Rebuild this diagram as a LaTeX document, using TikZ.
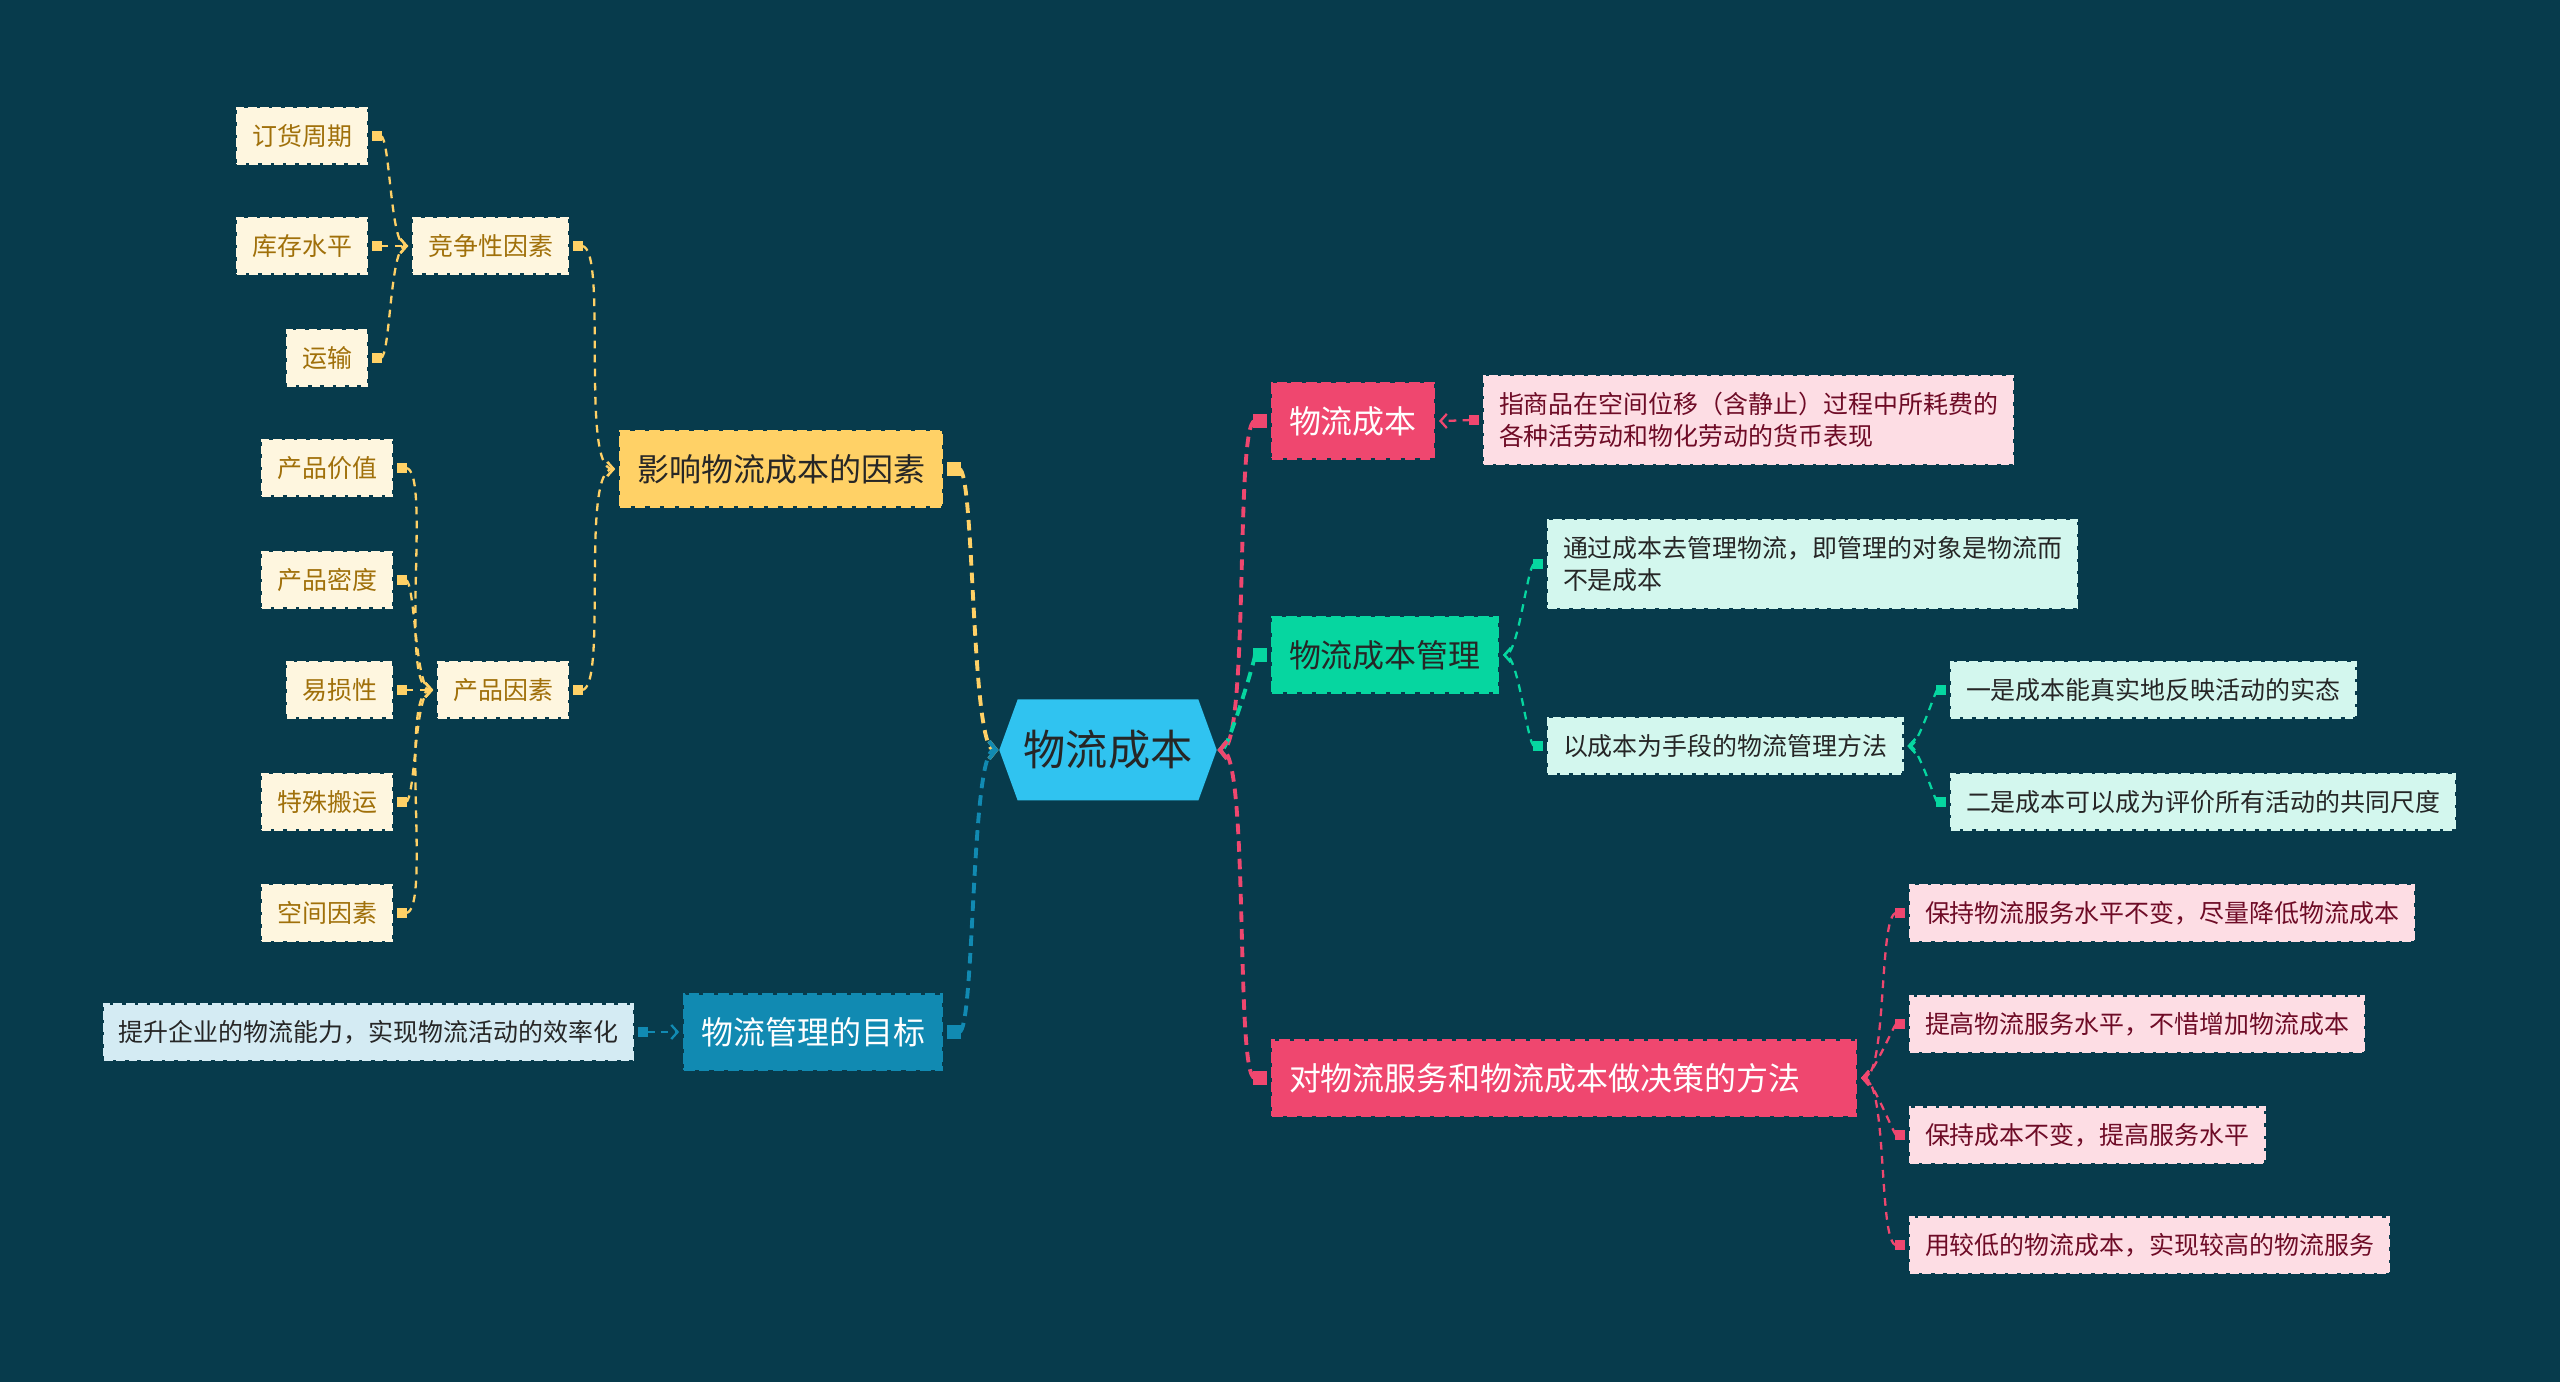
\documentclass[tikz,border=0pt]{standalone}
\usepackage{fontspec}
\setmainfont{Noto Sans CJK SC}
\usepackage{xcolor}
\usepackage{tikz}
\usetikzlibrary{arrows.meta,shapes.symbols}
\definecolor{MapBg}{HTML}{073B4C}
\definecolor{MapRoot}{HTML}{30C3F0}
\definecolor{MapYellow}{HTML}{FFD166}
\definecolor{MapPink}{HTML}{EF476F}
\definecolor{MapGreen}{HTML}{06D6A0}
\definecolor{MapBlue}{HTML}{118AB2}
\definecolor{MapCream}{HTML}{FEF6DF}
\definecolor{MapGold}{HTML}{A0700A}
\definecolor{MapBlush}{HTML}{FDDDE4}
\definecolor{MapWine}{HTML}{6E0B26}
\definecolor{MapMint}{HTML}{D3F7EE}
\definecolor{MapIce}{HTML}{D4EBF3}
\definecolor{MapInk}{HTML}{262626}
\tikzset{
  rootbox/.style={shape=signal,signal to=east and west,signal pointer angle=140,fill=MapRoot,text=MapInk,minimum height=1.01cm,inner xsep=0.06cm,inner ysep=0pt,font=\fontsize{12pt}{14pt}\selectfont},
  topic/.style={rectangle,fill=#1,draw=#1,line width=0.8pt,dash pattern=on 3pt off 1.2pt,minimum height=0.75cm,inner xsep=0.17cm,inner ysep=0pt,outer sep=0.05cm,font=\fontsize{9.1pt}{11pt}\selectfont},
  leaf/.style={rectangle,fill=#1,draw=#1,line width=0.7pt,dash pattern=on 2.5pt off 1pt,minimum height=0.55cm,inner xsep=0.15cm,inner ysep=0.08cm,outer sep=0.05cm,font=\fontsize{7.1pt}{9.1pt}\selectfont},
  trunk/.style={draw=#1,line width=1.1pt,dash pattern=on 3pt off 2pt,looseness=0.25,{Square[length=4pt,width=4pt]}-{Straight Barb[length=2pt,width=5pt]}},
  link/.style={draw=#1,line width=0.65pt,dash pattern=on 2.2pt off 1.8pt,looseness=0.4,{Square[length=2.8pt,width=2.8pt]}-{Straight Barb[length=1.8pt,width=4pt]}}
}

\begin{document}
\begin{tikzpicture}[x=1cm,y=1cm]
\fill[MapBg] (0,0) rectangle (25.60,13.82);
\path[use as bounding box] (0,0) rectangle (25.60,13.82);
\node[rootbox] (root) at (11.08,6.32) {物流成本};
\node[topic=MapYellow,text=MapInk,anchor=east] (yinxiang) at (9.47,9.13) {影响物流成本的因素};
\node[leaf=MapCream,text=MapGold,anchor=east] (jingzheng) at (5.73,11.36) {竞争性因素};
\node[leaf=MapCream,text=MapGold,anchor=east] (chanpin) at (5.73,6.92) {产品因素};
\node[leaf=MapCream,text=MapGold,anchor=east] (dinghuo) at (3.72,12.46) {订货周期};
\node[leaf=MapCream,text=MapGold,anchor=east] (kucun) at (3.72,11.36) {库存水平};
\node[leaf=MapCream,text=MapGold,anchor=east] (yunshu) at (3.72,10.24) {运输};
\node[leaf=MapCream,text=MapGold,anchor=east] (jiazhi) at (3.97,9.14) {产品价值};
\node[leaf=MapCream,text=MapGold,anchor=east] (midu) at (3.97,8.02) {产品密度};
\node[leaf=MapCream,text=MapGold,anchor=east] (yisun) at (3.97,6.92) {易损性};
\node[leaf=MapCream,text=MapGold,anchor=east] (banyun) at (3.97,5.80) {特殊搬运};
\node[leaf=MapCream,text=MapGold,anchor=east] (kongjian) at (3.97,4.69) {空间因素};
\node[topic=MapBlue,text=white,anchor=east] (mubiao) at (9.47,3.50) {物流管理的目标};
\node[leaf=MapIce,text=MapInk,anchor=east] (tisheng) at (6.38,3.50) {提升企业的物流能力，实现物流活动的效率化};
\node[topic=MapPink,text=white,anchor=west] (chengben) at (12.67,9.61) {物流成本};
\node[leaf=MapBlush,text=MapWine,anchor=west,align=left,inner ysep=0.16cm] (dingyi) at (14.79,9.62) {指商品在空间位移（含静止）过程中所耗费的\\各种活劳动和物化劳动的货币表现};
\node[topic=MapGreen,text=MapInk,anchor=west] (guanli) at (12.67,7.27) {物流成本管理};
\node[leaf=MapMint,text=MapInk,anchor=west,align=left,inner ysep=0.16cm] (tongguo) at (15.43,8.18) {通过成本去管理物流，即管理的对象是物流而\\不是成本};
\node[leaf=MapMint,text=MapInk,anchor=west] (shouduan) at (15.43,6.36) {以成本为手段的物流管理方法};
\node[leaf=MapMint,text=MapInk,anchor=west] (shitai) at (19.46,6.92) {一是成本能真实地反映活动的实态};
\node[leaf=MapMint,text=MapInk,anchor=west] (chidu) at (19.46,5.80) {二是成本可以成为评价所有活动的共同尺度};
\node[topic=MapPink,text=white,anchor=west,text width=5.5cm,align=left] (juece) at (12.67,3.04) {对物流服务和物流成本做决策的方法};
\node[leaf=MapBlush,text=MapWine,anchor=west] (fangfa1) at (19.05,4.69) {保持物流服务水平不变，尽量降低物流成本};
\node[leaf=MapBlush,text=MapWine,anchor=west] (fangfa2) at (19.05,3.58) {提高物流服务水平，不惜增加物流成本};
\node[leaf=MapBlush,text=MapWine,anchor=west] (fangfa3) at (19.05,2.47) {保持成本不变，提高服务水平};
\node[leaf=MapBlush,text=MapWine,anchor=west] (fangfa4) at (19.05,1.37) {用较低的物流成本，实现较高的物流服务};
\draw[trunk=MapYellow] (yinxiang.east) to[out=0,in=180] (root.west);
\draw[trunk=MapBlue] (mubiao.east) to[out=0,in=180] (root.west);
\draw[trunk=MapPink] (chengben.west) to[out=180,in=0] (root.east);
\draw[trunk=MapGreen] (guanli.west) to[out=180,in=0] (root.east);
\draw[trunk=MapPink] (juece.west) to[out=180,in=0] (root.east);
\draw[link=MapYellow] (jingzheng.east) to[out=0,in=180] (yinxiang.west);
\draw[link=MapYellow] (chanpin.east) to[out=0,in=180] (yinxiang.west);
\draw[link=MapYellow] (dinghuo.east) to[out=0,in=180] (jingzheng.west);
\draw[link=MapYellow] (kucun.east) to[out=0,in=180] (jingzheng.west);
\draw[link=MapYellow] (yunshu.east) to[out=0,in=180] (jingzheng.west);
\draw[link=MapYellow] (jiazhi.east) to[out=0,in=180] (chanpin.west);
\draw[link=MapYellow] (midu.east) to[out=0,in=180] (chanpin.west);
\draw[link=MapYellow] (yisun.east) to[out=0,in=180] (chanpin.west);
\draw[link=MapYellow] (banyun.east) to[out=0,in=180] (chanpin.west);
\draw[link=MapYellow] (kongjian.east) to[out=0,in=180] (chanpin.west);
\draw[link=MapBlue] (tisheng.east) to[out=0,in=180] (mubiao.west);
\draw[link=MapPink] (dingyi.west) to[out=180,in=0] (chengben.east);
\draw[link=MapGreen] (tongguo.west) to[out=180,in=0] (guanli.east);
\draw[link=MapGreen] (shouduan.west) to[out=180,in=0] (guanli.east);
\draw[link=MapGreen] (shitai.west) to[out=180,in=0] (shouduan.east);
\draw[link=MapGreen] (chidu.west) to[out=180,in=0] (shouduan.east);
\draw[link=MapPink] (fangfa1.west) to[out=180,in=0] (juece.east);
\draw[link=MapPink] (fangfa2.west) to[out=180,in=0] (juece.east);
\draw[link=MapPink] (fangfa3.west) to[out=180,in=0] (juece.east);
\draw[link=MapPink] (fangfa4.west) to[out=180,in=0] (juece.east);
\end{tikzpicture}
\end{document}
